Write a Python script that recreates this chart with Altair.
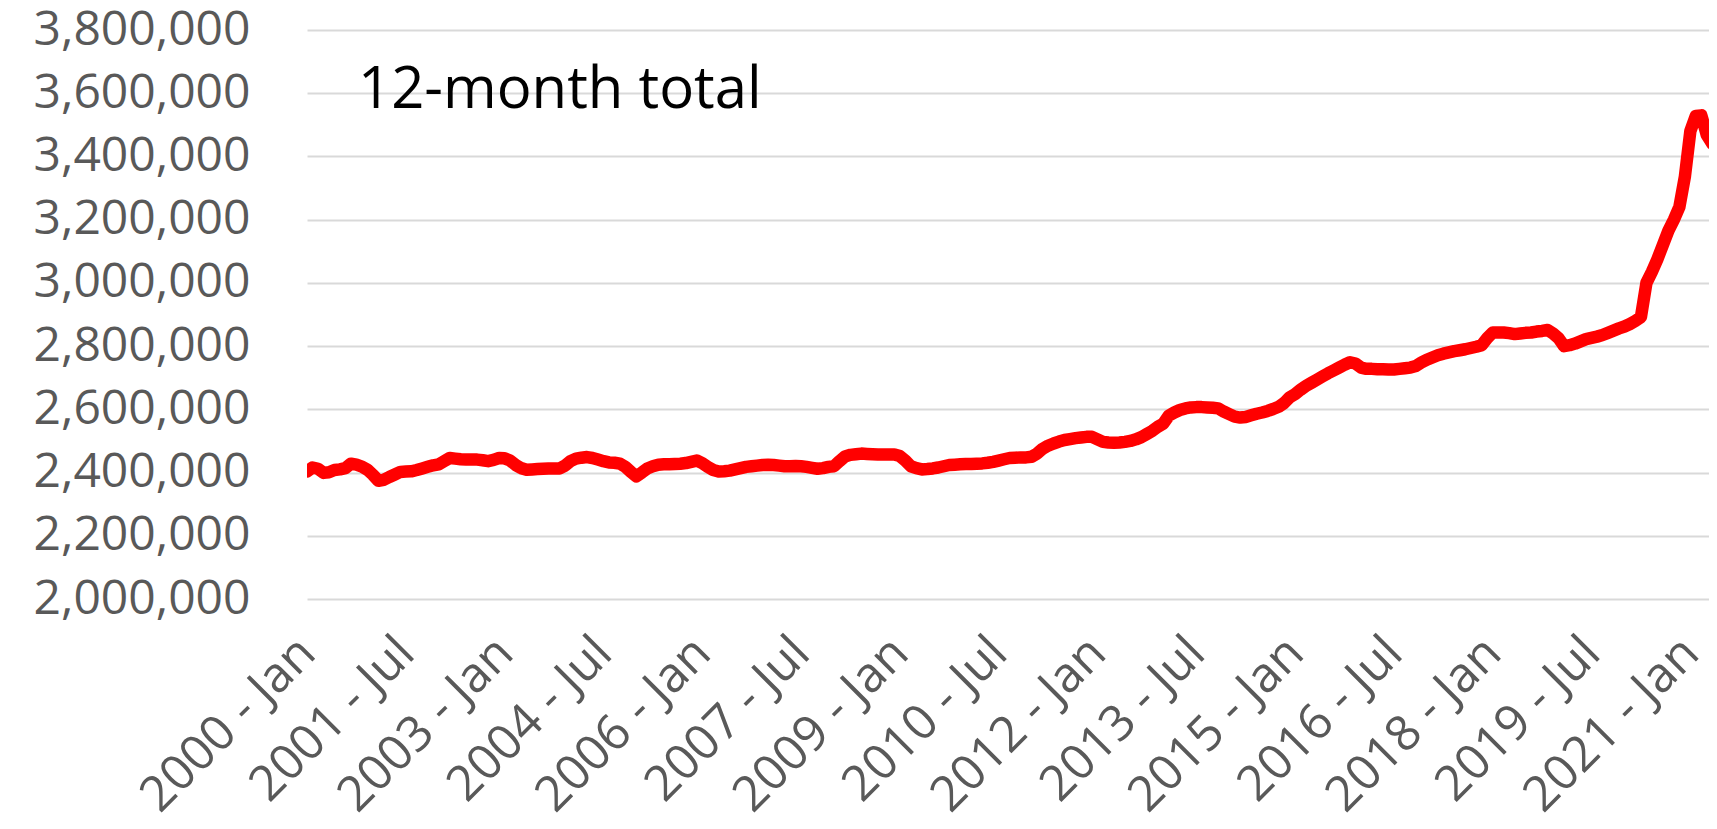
import json
import pandas as pd
import altair as alt

# Monthly 12-month totals (thousands), Jan 2000 onward, one row per year
totals_thousands = [
    2403, 2416, 2412, 2399, 2401, 2408, 2410, 2414, 2428, 2425, 2419, 2409,  # 2000
    2393, 2374, 2377, 2386, 2394, 2402, 2403, 2404, 2408, 2413, 2418, 2423,  # 2001
    2426, 2436, 2446, 2444, 2442, 2441, 2441, 2441, 2439, 2436, 2440, 2446,  # 2002
    2445, 2438, 2424, 2414, 2409, 2410, 2411, 2412, 2413, 2413, 2413, 2422,  # 2003
    2436, 2444, 2447, 2449, 2446, 2441, 2436, 2432, 2431, 2428, 2418, 2402,  # 2004
    2388, 2400, 2413, 2420, 2425, 2426, 2426, 2427, 2428, 2430, 2434, 2438,  # 2005
    2430, 2418, 2408, 2403, 2404, 2406, 2410, 2414, 2418, 2420, 2422, 2424,  # 2006
    2425, 2424, 2422, 2420, 2420, 2421, 2420, 2418, 2415, 2412, 2414, 2418,  # 2007
    2420, 2436, 2451, 2456, 2458, 2460, 2459, 2458, 2457, 2457, 2457, 2457,  # 2008
    2452, 2438, 2420, 2414, 2410, 2411, 2413, 2416, 2420, 2424, 2425, 2426,  # 2009
    2427, 2427, 2428, 2429, 2431, 2434, 2438, 2442, 2446, 2447, 2448, 2448,  # 2010
    2450, 2460, 2475, 2485, 2492, 2498, 2503, 2506, 2509, 2511, 2513, 2513,  # 2011
    2505, 2497, 2495, 2494, 2495, 2497, 2500, 2505, 2512, 2522, 2532, 2545,  # 2012
    2555, 2580, 2590, 2598, 2603, 2606, 2607, 2607, 2606, 2605, 2603, 2593,  # 2013
    2585, 2577, 2574, 2576, 2581, 2586, 2590, 2595, 2601, 2608, 2620, 2638,  # 2014
    2648, 2662, 2674, 2684, 2694, 2704, 2714, 2723, 2732, 2741, 2749, 2745,  # 2015
    2732, 2728, 2728, 2727, 2727, 2726, 2726, 2728, 2730, 2732, 2737, 2748,  # 2016
    2757, 2764, 2771, 2776, 2780, 2784, 2787, 2790, 2794, 2798, 2803, 2825,  # 2017
    2843, 2843, 2843, 2841, 2838, 2840, 2842, 2843, 2846, 2848, 2851, 2840,  # 2018
    2825, 2800, 2803, 2808, 2815, 2822, 2826, 2830, 2835, 2842, 2849, 2856,  # 2019
    2862, 2870, 2880, 2892, 3000, 3035, 3075, 3120, 3165, 3200, 3240, 3335,  # 2020
    3480, 3528, 3530, 3468, 3440, 3432,                                      # 2021
]
start_year = 2000
tick_labels = ["2000 - Jan", "2001 - Jul", "2003 - Jan", "2004 - Jul", "2006 - Jan",
               "2007 - Jul", "2009 - Jan", "2010 - Jul", "2012 - Jan", "2013 - Jul",
               "2015 - Jan", "2016 - Jul", "2018 - Jan", "2019 - Jul", "2021 - Jan"]
y_ticks = [2000000, 2200000, 2400000, 2600000, 2800000, 3000000, 3200000, 3400000, 3600000, 3800000]
title_text = "12-month total"

df = pd.DataFrame({
    "month": list(range(len(totals_thousands))),
    "total": [v * 1000 for v in totals_thousands],
})

label_expr = json.dumps(tick_labels) + "[round(datum.value / 18)]"

line = alt.Chart(df).mark_line(
    color="#ff0000", strokeWidth=12.5, strokeCap="round", strokeJoin="round", clip=True
).encode(
    x=alt.X("month:Q",
            scale=alt.Scale(domain=[0, 255.4], nice=False, zero=False),
            axis=alt.Axis(values=[i * 18 for i in range(len(tick_labels))],
                          labelExpr=label_expr, title=None, grid=False,
                          domain=False, ticks=False, labelAngle=-45,
                          labelAlign="right", labelBaseline="middle",
                          labelPadding=46, labelFont="Open Sans", labelFontSize=49,
                          labelColor="#595959", labelOverlap=False, labelBound=False,
                          labelFlush=False, labelLimit=0)),
    y=alt.Y("total:Q",
            scale=alt.Scale(domain=[2000000, 3800000], nice=False, zero=False),
            axis=alt.Axis(values=y_ticks, format=",d", title=None, domain=False,
                          ticks=False, gridColor="#d9d9d9", gridWidth=2,
                          labelPadding=57, labelFont="Open Sans", labelFontSize=48,
                          labelColor="#595959", labelOverlap=False, labelFlush=False,
                          labelLimit=0)),
)

title = alt.Chart(pd.DataFrame({"label": [title_text]})).mark_text(
    align="left", baseline="alphabetic", font="Open Sans", fontSize=58, color="#000000"
).encode(text="label:N", x=alt.value(51), y=alt.value(78))

chart = alt.layer(line, title).properties(
    width=1402, height=569,
    autosize=alt.AutoSizeParams(type="none"),
    padding={"left": 299, "top": 22, "right": 0, "bottom": 230},
).configure_view(stroke=None)

chart.save("out.html", embed_options={"renderer": "svg", "actions": False})
